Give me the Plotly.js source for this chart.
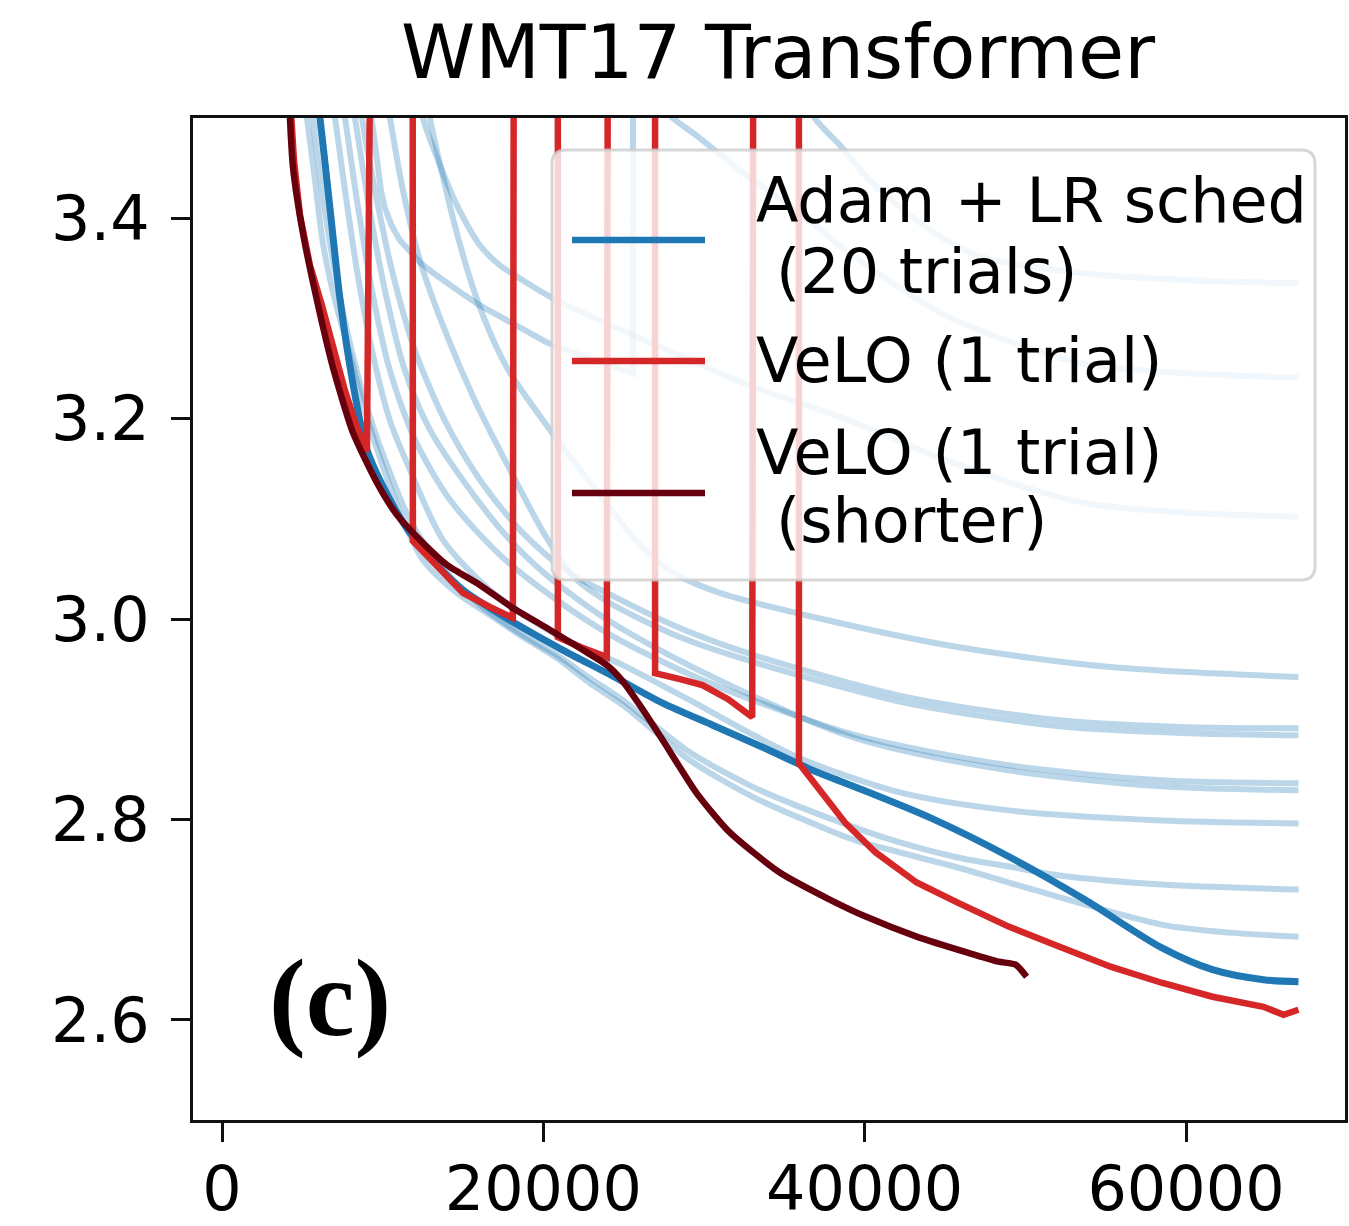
<!DOCTYPE html>
<html><head><meta charset="utf-8">
<script src="https://cdn.plot.ly/plotly-3.0.1.min.js"></script>
<style>html,body{margin:0;padding:0;background:#fff;}#chart{width:1349px;height:1226px;}</style>
</head><body><div id="chart"></div>
<script>
// ---------- tick labels ----------
const xTickVals = [0, 20000, 40000, 60000];
const xTickText = ['0', '20000', '40000', '60000'];
const yTickVals = [2.6, 2.8, 3.0, 3.2, 3.4];
const yTickText = ['2.6', '2.8', '3.0', '3.2', '3.4'];

// ---------- series names (legend lines) ----------
const seriesNames = ['Adam + LR sched', ' (20 trials)', 'VeLO (1 trial)', 'VeLO (1 trial)', ' (shorter)'];

// ---------- best Adam trial ----------
const adamBestX = [5848, 6097, 6719, 7341, 8150, 9020, 10451, 11696, 13375, 14993, 16672, 18103, 21213, 24324, 27434, 30545, 33655, 36766, 39939, 44169, 48960, 53688, 58477, 61650, 64823, 67000];
const adamBestY = [3.528, 3.500, 3.410, 3.320, 3.235, 3.169, 3.119, 3.086, 3.054, 3.029, 3.011, 2.997, 2.969, 2.943, 2.916, 2.894, 2.872, 2.849, 2.829, 2.801, 2.763, 2.720, 2.672, 2.650, 2.640, 2.638];

// ---------- VeLO (1 trial) ----------
const veloX = [4230, 4479, 4852, 5474, 6221, 6905, 7652, 8398, 9020, 9700, 11850, 11880, 13375, 14993, 16672, 18103, 18250, 20900, 20903, 22300, 23951, 24100, 26950, 26955, 28500, 29900, 31500, 33000, 33150, 35900, 35910, 36891, 38819, 40685, 43236, 45787, 48960, 52132, 55305, 58477, 61650, 64823, 66067, 67000];
const veloY = [3.523, 3.458, 3.403, 3.353, 3.313, 3.273, 3.228, 3.191, 3.167, 4.5, 4.5, 3.078, 3.052, 3.026, 3.012, 3.001, 4.5, 4.5, 2.982, 2.972, 2.962, 4.5, 4.5, 2.946, 2.940, 2.934, 2.920, 2.902, 4.5, 4.5, 2.856, 2.836, 2.796, 2.767, 2.737, 2.717, 2.693, 2.673, 2.653, 2.637, 2.623, 2.613, 2.605, 2.610];

// ---------- VeLO (1 trial, shorter) ----------
const veloShortX = [4168, 4230, 4417, 5039, 5910, 6905, 8150, 9643, 10887, 12318, 13997, 16050, 18103, 20218, 22271, 23951, 24884, 26004, 27434, 29550, 31603, 34713, 37824, 40063, 43236, 46409, 48337, 49395, 50079];
const veloShortY = [3.528, 3.500, 3.451, 3.385, 3.318, 3.251, 3.186, 3.136, 3.104, 3.079, 3.054, 3.034, 3.011, 2.991, 2.971, 2.954, 2.939, 2.914, 2.879, 2.826, 2.787, 2.747, 2.720, 2.703, 2.683, 2.667, 2.658, 2.655, 2.643];

// ---------- other Adam trials ----------
const trial1X = [35957, 36891, 38446, 40312, 43236, 45289, 47342, 53563, 60220, 67000];
const trial1Y = [3.533, 3.500, 3.473, 3.438, 3.398, 3.376, 3.361, 3.345, 3.338, 3.335];
const trial2X = [26626, 28057, 29736, 32225, 35957, 39068, 45289, 53563, 60220, 67000];
const trial2Y = [3.523, 3.500, 3.480, 3.448, 3.405, 3.365, 3.301, 3.255, 3.245, 3.241];
const trial3X = [12193, 12504, 13562, 14619, 16050, 17294, 18725, 20840, 26626, 32847, 39068, 45289, 53563, 60220, 67000];
const trial3Y = [3.528, 3.500, 3.453, 3.413, 3.373, 3.353, 3.338, 3.318, 3.276, 3.233, 3.198, 3.157, 3.116, 3.106, 3.102];
const trial4X = [9083, 9332, 9518, 9705, 9891, 10140, 10576, 11073, 11695, 12318, 13251, 14184, 15117, 16050, 17916, 20218, 22893, 25568, 25630];
const trial4Y = [3.528, 3.500, 3.473, 3.448, 3.428, 3.410, 3.392, 3.378, 3.366, 3.356, 3.344, 3.333, 3.323, 3.313, 3.296, 3.276, 3.260, 3.245, 4.5];
const trial5X = [12691, 12940, 14619, 16050, 17730, 20405, 23515, 26004, 27995, 30981, 36268, 45787, 55305, 67000];
const trial5Y = [3.528, 3.500, 3.385, 3.311, 3.251, 3.189, 3.124, 3.074, 3.047, 3.026, 3.004, 2.972, 2.952, 2.942];
const trial6X = [4977, 5288, 5785, 6283, 7030, 7776, 8896, 10016, 11260, 12504, 14619, 16672, 18725, 20840, 22893, 24946, 27061, 29114, 33096, 37824, 39441, 45787, 48960, 58477, 62708, 67000];
const trial6Y = [3.538, 3.500, 3.438, 3.375, 3.318, 3.275, 3.208, 3.152, 3.099, 3.059, 3.026, 3.004, 2.982, 2.961, 2.936, 2.914, 2.886, 2.859, 2.822, 2.789, 2.779, 2.752, 2.737, 2.695, 2.687, 2.683];
const trial7X = [5474, 5661, 6221, 6905, 7776, 8896, 10140, 11695, 13562, 16050, 18725, 20840, 22893, 24946, 27061, 29114, 33096, 37824, 42178, 45787, 48960, 52132, 58477, 67000];
const trial7Y = [3.538, 3.500, 3.428, 3.358, 3.288, 3.218, 3.159, 3.099, 3.054, 3.014, 2.984, 2.964, 2.941, 2.919, 2.892, 2.867, 2.832, 2.801, 2.777, 2.762, 2.753, 2.744, 2.735, 2.730];
const trial8X = [6719, 7030, 7652, 8398, 9332, 10451, 11695, 13748, 16672, 20840, 24946, 29114, 33096, 36268, 42178, 48960, 58477, 67000];
const trial8Y = [3.528, 3.500, 3.428, 3.348, 3.268, 3.198, 3.149, 3.079, 3.029, 2.984, 2.954, 2.919, 2.884, 2.859, 2.827, 2.809, 2.799, 2.796];
const trial9X = [7341, 7652, 8398, 9332, 10451, 12007, 14184, 17294, 20405, 24200, 29923, 39441, 48960, 58477, 67000];
const trial9Y = [3.528, 3.500, 3.418, 3.328, 3.248, 3.179, 3.119, 3.064, 3.024, 2.984, 2.939, 2.884, 2.854, 2.839, 2.836];
const trial10X = [7963, 8274, 9083, 10140, 11384, 12940, 15428, 17916, 20405, 24200, 29923, 39441, 48960, 58477, 67000];
const trial10Y = [3.528, 3.500, 3.418, 3.328, 3.248, 3.189, 3.129, 3.079, 3.041, 2.997, 2.947, 2.881, 2.849, 2.833, 2.829];
const trial11X = [8461, 8709, 9518, 10576, 12007, 13873, 16050, 18539, 21338, 24200, 28492, 33096, 42614, 52132, 60220, 67000];
const trial11Y = [3.528, 3.500, 3.428, 3.348, 3.268, 3.198, 3.139, 3.089, 3.049, 3.024, 2.991, 2.964, 2.922, 2.899, 2.892, 2.891];
const trial12X = [10140, 10451, 11260, 12318, 13873, 15739, 17916, 20094, 21960, 24137, 28492, 33096, 42614, 52132, 60220, 67000];
const trial12Y = [3.528, 3.500, 3.428, 3.358, 3.288, 3.218, 3.149, 3.084, 3.041, 3.016, 2.982, 2.957, 2.916, 2.893, 2.886, 2.884];

// ---------- styling ----------
const BLUE = '#1f77b4', LIGHT = 'rgba(31,119,180,0.3)', RED = '#d62728', DARKRED = '#67000d';
const FONT = 'DejaVu Sans';

const trials = [
  [trial1X, trial1Y], [trial2X, trial2Y], [trial3X, trial3Y], [trial4X, trial4Y],
  [trial5X, trial5Y], [trial6X, trial6Y], [trial7X, trial7Y], [trial8X, trial8Y],
  [trial9X, trial9Y], [trial10X, trial10Y], [trial11X, trial11Y], [trial12X, trial12Y]
];
const linearTrials = [3]; // trial that diverges: drawn without smoothing

const traces = trials.map((t, i) => ({
  x: t[0], y: t[1], type: 'scatter', mode: 'lines', name: 'Adam trial ' + (i + 2),
  line: linearTrials.includes(i) ? {color: LIGHT, width: 6, shape: 'linear'}
                                 : {color: LIGHT, width: 6, shape: 'spline', smoothing: 0.8},
  showlegend: false, hoverinfo: 'skip'
}));
traces.push({x: adamBestX, y: adamBestY, type: 'scatter', mode: 'lines', name: 'Adam + LR sched (20 trials)',
  line: {color: BLUE, width: 7, shape: 'spline', smoothing: 0.8}, showlegend: false});
traces.push({x: veloX, y: veloY, type: 'scatter', mode: 'lines', name: 'VeLO (1 trial)',
  line: {color: RED, width: 6.5, shape: 'linear'}, showlegend: false});
traces.push({x: veloShortX, y: veloShortY, type: 'scatter', mode: 'lines', name: 'VeLO (1 trial) (shorter)',
  line: {color: DARKRED, width: 6.5, shape: 'spline', smoothing: 0.6}, showlegend: false});

// ---------- layout helpers (pixel -> paper) ----------
const PL = 193, PR = 1345, PT = 118, PB = 1120;
const px = p => (p - PL) / (PR - PL);
const py = p => (PB - p) / (PB - PT);

const bx0 = px(552), bx1 = px(1315), by0 = py(580), by1 = py(150);
const rx = 14 / (PR - PL), ry = 14 / (PB - PT);
const boxPath = `M${bx0 + rx},${by1} L${bx1 - rx},${by1} Q${bx1},${by1} ${bx1},${by1 - ry} L${bx1},${by0 + ry} Q${bx1},${by0} ${bx1 - rx},${by0} L${bx0 + rx},${by0} Q${bx0},${by0} ${bx0},${by0 + ry} L${bx0},${by1 - ry} Q${bx0},${by1} ${bx0 + rx},${by1} Z`;

const legendColors = [BLUE, RED, DARKRED];
const legendLineY = [240, 361, 493];
const shapes = [{type: 'path', xref: 'paper', yref: 'paper', path: boxPath,
  fillcolor: 'rgba(255,255,255,0.8)', line: {color: 'rgba(204,204,204,0.8)', width: 3}, layer: 'above'}];
legendLineY.forEach((yy, i) => shapes.push({type: 'line', xref: 'paper', yref: 'paper',
  x0: px(572), x1: px(705), y0: py(yy), y1: py(yy), line: {color: legendColors[i], width: 6.5}, layer: 'above'}));

const legendTextPos = [[754, 201], [774, 271], [754, 360], [754, 452], [774, 520]];
const annotations = seriesNames.map((s, i) => ({
  text: s.trim(), xref: 'paper', yref: 'paper', x: px(legendTextPos[i][0]), y: py(legendTextPos[i][1]),
  xanchor: 'left', yanchor: 'middle', showarrow: false, font: {family: FONT, size: 62, color: '#000'}
}));
annotations.push({text: '<b>(c)</b>', xref: 'paper', yref: 'paper', x: px(330), y: py(998),
  xanchor: 'center', yanchor: 'middle', showarrow: false, font: {family: 'Liberation Serif', size: 110, color: '#000'}});

const axisCommon = {
  showgrid: false, zeroline: false, showline: true, mirror: true, linecolor: '#111', linewidth: 3,
  ticks: 'outside', ticklen: 19, tickwidth: 3, tickcolor: '#111',
  tickfont: {family: FONT, size: 62, color: '#000'}, fixedrange: true
};

const layout = {
  width: 1349, height: 1226,
  margin: {l: PL, r: 1349 - PR, t: PT, b: 1226 - PB, pad: 0},
  paper_bgcolor: '#fff', plot_bgcolor: '#fff',
  title: {text: 'WMT17 Transformer', font: {family: FONT, size: 75, color: '#000'},
    xref: 'container', x: 778 / 1349, xanchor: 'center', yref: 'container', y: 1 - 52 / 1226, yanchor: 'middle'},
  xaxis: Object.assign({}, axisCommon, {range: [-1805, 69895], tickmode: 'array', tickvals: xTickVals, ticktext: xTickText, ticklabelstandoff: -6}),
  yaxis: Object.assign({}, axisCommon, {range: [2.5, 3.5], tickmode: 'array', tickvals: yTickVals, ticktext: yTickText, ticklabelstandoff: 9}),
  shapes: shapes, annotations: annotations, showlegend: false, hovermode: false
};

Plotly.newPlot('chart', traces, layout, {displayModeBar: false, staticPlot: true});
</script></body></html>
